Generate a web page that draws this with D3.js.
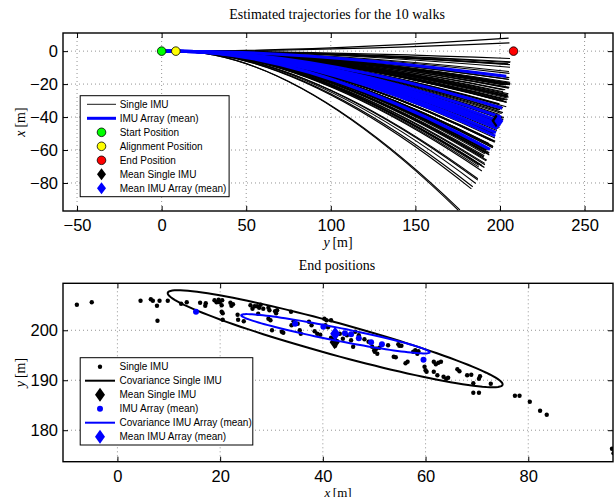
<!DOCTYPE html>
<html>
<head>
<meta charset="utf-8">
<script src="https://cdn.jsdelivr.net/npm/d3@7"></script>
<style>
  html, body { margin: 0; padding: 0; background: #fff; }
  svg { display: block; }
</style>
</head>
<body>
<svg id="chart" width="616" height="497"></svg>
<script>
// ---- data -------------------------------------------------------------
// End positions of every single-IMU estimate: [x, y] in metres
const singleEnd = [
  [-7.9,205.1],[-5.0,205.6],[4.5,205.9],[6.5,206.2],[6.9,205.9],[7.7,204.9],[8.2,205.9],[7.8,201.9],
  [9.8,205.9],[12.4,205.3],[13.5,205.6],[16.1,205.5],[17.1,204.9],[17.2,205.4],[18.9,206.0],[19.3,205.6],
  [19.7,206.1],[19.9,205.6],[20.3,205.0],[20.4,206.0],[20.3,203.7],[20.5,203.4],[20.5,202.1],[22.0,205.5],
  [22.2,204.9],[22.5,205.2],[23.4,203.1],[23.5,202.1],[24.6,201.8],[25.9,205.0],[26.3,204.3],[26.7,204.8],
  [27.2,204.8],[27.6,204.5],[27.9,205.1],[28.4,204.3],[29.4,204.5],[29.6,204.0],[27.4,203.3],[29.4,202.3],
  [29.8,202.0],[30.1,200.0],[32.0,199.7],[32.3,199.5],[30.7,203.8],[31.1,204.0],[30.9,203.4],[33.8,203.7],
  [33.9,201.0],[34.3,201.8],[35.1,201.3],[35.5,200.0],[35.7,199.3],[37.3,201.7],[37.8,201.0],[38.4,199.8],
  [38.9,199.3],[39.5,199.1],[40.3,202.3],[40.7,202.0],[41.6,202.0],[40.5,201.0],[41.0,200.6],[41.6,198.5],
  [42.0,197.8],[42.4,197.4],[42.4,196.9],[42.8,197.8],[43.3,199.3],[43.9,198.3],[44.7,199.0],[45.5,198.0],
  [45.9,196.7],[46.3,199.7],[47.0,199.0],[48.1,198.2],[48.9,197.7],[49.6,196.7],[50.0,196.0],[50.1,195.7],
  [50.6,195.3],[50.4,196.3],[51.0,196.5],[52.7,197.0],[53.8,194.7],[54.2,194.6],[54.7,197.2],[54.9,196.9],
  [55.3,196.9],[56.1,193.4],[56.5,193.7],[57.6,195.7],[58.0,196.0],[58.4,195.3],[58.6,195.8],[59.8,192.7],
  [60.0,192.0],[60.2,191.7],[61.6,193.7],[62.0,193.2],[62.5,193.5],[63.0,193.7],[61.6,191.7],[62.3,191.0],
  [63.5,190.7],[64.0,190.3],[64.4,190.5],[66.2,192.2],[66.6,191.8],[68.1,191.0],[68.9,191.1],[69.3,189.4],
  [70.4,190.3],[70.6,190.8],[72.7,189.3],[69.3,187.5],[70.4,187.5],[77.4,186.9],[78.3,186.9],[80.3,185.7],
  [82.3,183.9],[83.6,183.1],[96.3,176.3],[96.6,175.4]
];
// End positions of the IMU-array (mean) estimate, one per walk
const arrayEnd = [
  [15.3,203.7],[34.6,201.3],[40.1,200.7],[42.3,199.4],[44.3,199.4],
  [45.5,199.2],[47.0,198.4],[49.4,197.6],[51.5,197.2],[59.6,194.1]
];
const meanSingle = [42.3, 197.6];
const meanArray  = [42.4, 199.3];

// Covariance ellipses: centre and the two semi-axis vectors [dx, dy]
const covSingle = { centre: [42.4, 198.3], major: [32.6, -9.2], minor: [-0.82, -3.09] };
const covArray  = { centre: [42.45, 199.3], major: [18.35, -3.72], minor: [-0.245, -1.28] };

// Reference positions along the walk, [y, x]
const startPos = [0, 0];
const alignPos = [8.4, 0];
const endPos   = [208, 0];

// Axis ticks
const topXTicks = [-50, 0, 50, 100, 150, 200, 250];
const topYTicks = [-80, -60, -40, -20, 0];
const botXTicks = [0, 20, 40, 60, 80];
const botYTicks = [180, 190, 200];

const topLegend = ["Single IMU", "IMU Array (mean)", "Start Position", "Alignment Position",
                   "End Position", "Mean Single IMU", "Mean IMU Array (mean)"];
const botLegend = ["Single IMU", "Covariance Single IMU", "Mean Single IMU", "IMU Array (mean)",
                   "Covariance IMU Array (mean)", "Mean IMU Array (mean)"];

// ---- layout ----------------------------------------------------------
const svg = d3.select("#chart");
const SANS = "'Liberation Sans', Arial, Helvetica, sans-serif";
const SERIF = "'Liberation Serif', 'Times New Roman', serif";
const BLUE = "#0000ff";

const topBox = { l: 63, r: 613, t: 33, b: 211 };
const botBox = { l: 63, r: 613, t: 283.3, b: 461.7 };

const tx = d3.scaleLinear().domain([-58.3, 266.8]).range([topBox.l, topBox.r]);
const ty = d3.scaleLinear().domain([-97, 11]).range([topBox.b, topBox.t]);
const bx = d3.scaleLinear().domain([-10.6, 96.5]).range([botBox.l, botBox.r]);
const by = d3.scaleLinear().domain([173.7, 209.4]).range([botBox.b, botBox.t]);

function diamondPath(cx, cy, hw, hh) {
  return `M${cx},${cy - hh}L${cx + hw},${cy}L${cx},${cy + hh}L${cx - hw},${cy}Z`;
}

function drawFrame(box, sx, sy, xt, yt, id) {
  const g = svg.append("g");
  // dotted grid
  g.append("g").selectAll("line").data(xt).join("line")
    .attr("x1", d => sx(d)).attr("x2", d => sx(d))
    .attr("y1", box.t).attr("y2", box.b)
    .attr("stroke", "#666").attr("stroke-width", 0.7).attr("stroke-dasharray", "1,3");
  g.append("g").selectAll("line").data(yt).join("line")
    .attr("y1", d => sy(d)).attr("y2", d => sy(d))
    .attr("x1", box.l).attr("x2", box.r)
    .attr("stroke", "#666").attr("stroke-width", 0.7).attr("stroke-dasharray", "1,3");

  svg.append("clipPath").attr("id", id).append("rect")
    .attr("x", box.l).attr("y", box.t).attr("width", box.r - box.l).attr("height", box.b - box.t);
  return g;
}

function drawAxes(box, sx, sy, xt, yt) {
  const fmt = d3.format("");
  const style = sel => {
    sel.select(".domain").remove();
    sel.selectAll(".tick line").attr("stroke", "#000").attr("stroke-width", 1);
    sel.selectAll("text").attr("font-family", SANS).attr("font-size", 16.5).attr("fill", "#000");
  };
  svg.append("g").attr("transform", `translate(0,${box.b})`)
    .call(d3.axisBottom(sx).tickValues(xt).tickFormat(fmt).tickSize(-5).tickPadding(8.5)).call(style);
  svg.append("g").attr("transform", `translate(0,${box.t})`)
    .call(d3.axisTop(sx).tickValues(xt).tickFormat("").tickSize(-5)).call(style);
  svg.append("g").attr("transform", `translate(${box.l},0)`)
    .call(d3.axisLeft(sy).tickValues(yt).tickFormat(fmt).tickSize(-5).tickPadding(5)).call(style);
  svg.append("g").attr("transform", `translate(${box.r},0)`)
    .call(d3.axisRight(sy).tickValues(yt).tickFormat("").tickSize(-5)).call(style);
  svg.append("rect").attr("x", box.l).attr("y", box.t)
    .attr("width", box.r - box.l).attr("height", box.b - box.t)
    .attr("fill", "none").attr("stroke", "#000").attr("stroke-width", 1.4);
}

// ---- top panel: trajectories -------------------------------------------
drawFrame(topBox, tx, ty, topXTicks, topYTicks, "clipTop");
const topPlot = svg.append("g").attr("clip-path", "url(#clipTop)");

// Each walk leaves the start, passes the alignment point and bends towards its end point.
function trajectory(end) {
  const yEnd = end[1], xEnd = -end[0];
  const ctrl = alignPos[0] + 0.42 * (yEnd - alignPos[0]);
  const p = d3.path();
  p.moveTo(tx(startPos[0]), ty(startPos[1]));
  p.lineTo(tx(alignPos[0]), ty(alignPos[1]));
  p.quadraticCurveTo(tx(ctrl), ty(0), tx(yEnd), ty(xEnd));
  return p.toString();
}

topPlot.append("g").selectAll("path").data(singleEnd).join("path")
  .attr("d", trajectory).attr("fill", "none").attr("stroke", "#000").attr("stroke-width", 1.1);
topPlot.append("g").selectAll("path").data(arrayEnd).join("path")
  .attr("d", trajectory).attr("fill", "none").attr("stroke", BLUE).attr("stroke-width", 3);

const posMarkers = [[startPos, "#00ff00"], [alignPos, "#ffff00"], [endPos, "#ff0000"]];
topPlot.append("g").selectAll("circle").data(posMarkers).join("circle")
  .attr("cx", d => tx(d[0][0])).attr("cy", d => ty(d[0][1])).attr("r", 4.3)
  .attr("fill", d => d[1]).attr("stroke", "#000").attr("stroke-width", 0.8);
topPlot.append("path").attr("d", diamondPath(tx(meanSingle[1]), ty(-meanSingle[0]), 4.5, 6.5)).attr("fill", "#000");
topPlot.append("path").attr("d", diamondPath(tx(meanArray[1]), ty(-meanArray[0]), 4.5, 6.5)).attr("fill", BLUE);

drawAxes(topBox, tx, ty, topXTicks, topYTicks);

// top legend
{
  const lg = svg.append("g");
  lg.append("rect").attr("x", 80.2).attr("y", 95.7).attr("width", 148.9).attr("height", 101)
    .attr("fill", "#fff").attr("stroke", "#000").attr("stroke-width", 1);
  const rowY = i => 104.3 + i * 14;
  lg.selectAll("text").data(topLegend).join("text")
    .attr("x", 119.7).attr("y", (d, i) => rowY(i)).attr("dy", "0.35em")
    .attr("font-family", SANS).attr("font-size", 10).text(d => d);
  lg.append("line").attr("x1", 87).attr("x2", 116).attr("y1", rowY(0)).attr("y2", rowY(0))
    .attr("stroke", "#000").attr("stroke-width", 0.9);
  lg.append("line").attr("x1", 87).attr("x2", 116).attr("y1", rowY(1)).attr("y2", rowY(1))
    .attr("stroke", BLUE).attr("stroke-width", 3);
  posMarkers.forEach((m, i) => {
    lg.append("circle").attr("cx", 101.5).attr("cy", rowY(i + 2)).attr("r", 4.3)
      .attr("fill", m[1]).attr("stroke", "#000").attr("stroke-width", 0.8);
  });
  lg.append("path").attr("d", diamondPath(101.5, rowY(5), 4.5, 6)).attr("fill", "#000");
  lg.append("path").attr("d", diamondPath(101.5, rowY(6), 4.5, 6)).attr("fill", BLUE);
}

// ---- bottom panel: end positions --------------------------------------
drawFrame(botBox, bx, by, botXTicks, botYTicks, "clipBot");
const botPlot = svg.append("g").attr("clip-path", "url(#clipBot)");

function ellipsePath(c) {
  const ts = d3.range(0, 361, 3).map(a => a * Math.PI / 180);
  return d3.line()
    .x(t => bx(c.centre[0] + Math.cos(t) * c.major[0] + Math.sin(t) * c.minor[0]))
    .y(t => by(c.centre[1] + Math.cos(t) * c.major[1] + Math.sin(t) * c.minor[1]))
    .curve(d3.curveLinearClosed)(ts);
}

botPlot.append("g").selectAll("circle").data(singleEnd).join("circle")
  .attr("cx", d => bx(d[0])).attr("cy", d => by(d[1])).attr("r", 2.2).attr("fill", "#000");
botPlot.append("path").attr("d", ellipsePath(covSingle))
  .attr("fill", "none").attr("stroke", "#000").attr("stroke-width", 2);
botPlot.append("path").attr("d", diamondPath(bx(meanSingle[0]), by(meanSingle[1]), 5, 7)).attr("fill", "#000");
botPlot.append("g").selectAll("circle").data(arrayEnd).join("circle")
  .attr("cx", d => bx(d[0])).attr("cy", d => by(d[1])).attr("r", 3).attr("fill", BLUE);
botPlot.append("path").attr("d", ellipsePath(covArray))
  .attr("fill", "none").attr("stroke", BLUE).attr("stroke-width", 2);
botPlot.append("path").attr("d", diamondPath(bx(meanArray[0]), by(meanArray[1]), 5, 7)).attr("fill", BLUE);

drawAxes(botBox, bx, by, botXTicks, botYTicks);

// bottom legend
{
  const lg = svg.append("g");
  lg.append("rect").attr("x", 80.2).attr("y", 357.7).attr("width", 172.6).attr("height", 87.3)
    .attr("fill", "#fff").attr("stroke", "#000").attr("stroke-width", 1);
  const rowY = i => 366.7 + i * 14;
  lg.selectAll("text").data(botLegend).join("text")
    .attr("x", 119.5).attr("y", (d, i) => rowY(i)).attr("dy", "0.35em")
    .attr("font-family", SANS).attr("font-size", 10).text(d => d);
  lg.append("circle").attr("cx", 100).attr("cy", rowY(0)).attr("r", 2.2).attr("fill", "#000");
  lg.append("line").attr("x1", 85).attr("x2", 115).attr("y1", rowY(1)).attr("y2", rowY(1))
    .attr("stroke", "#000").attr("stroke-width", 2);
  lg.append("path").attr("d", diamondPath(100, rowY(2), 5, 7)).attr("fill", "#000");
  lg.append("circle").attr("cx", 100).attr("cy", rowY(3)).attr("r", 3).attr("fill", BLUE);
  lg.append("line").attr("x1", 85).attr("x2", 115).attr("y1", rowY(4)).attr("y2", rowY(4))
    .attr("stroke", BLUE).attr("stroke-width", 2);
  lg.append("path").attr("d", diamondPath(100, rowY(5), 5, 7)).attr("fill", BLUE);
}

// ---- titles and axis labels -------------------------------------------
function serifLabel(x, y, parts, rotate, size) {
  const t = svg.append("text")
    .attr("transform", `translate(${x},${y})` + (rotate ? " rotate(-90)" : ""))
    .attr("text-anchor", "middle").attr("font-family", SERIF).attr("font-size", size || 14).attr("fill", "#000");
  parts.forEach(p => t.append("tspan").attr("font-style", p[1] ? "italic" : "normal").text(p[0]));
  return t;
}
serifLabel(337, 19, [["Estimated trajectories for the 10 walks", false]]);
serifLabel(337, 270, [["End positions", false]]);
serifLabel(338, 247, [["y", true], ["\u2009[m]", false]]);
serifLabel(338, 497, [["x", true], ["\u2009[m]", false]], false, 13);
serifLabel(25, 122, [["x", true], ["\u2009[m]", false]], true);
serifLabel(25, 372.5, [["y", true], ["\u2009[m]", false]], true);
</script>
</body>
</html>
